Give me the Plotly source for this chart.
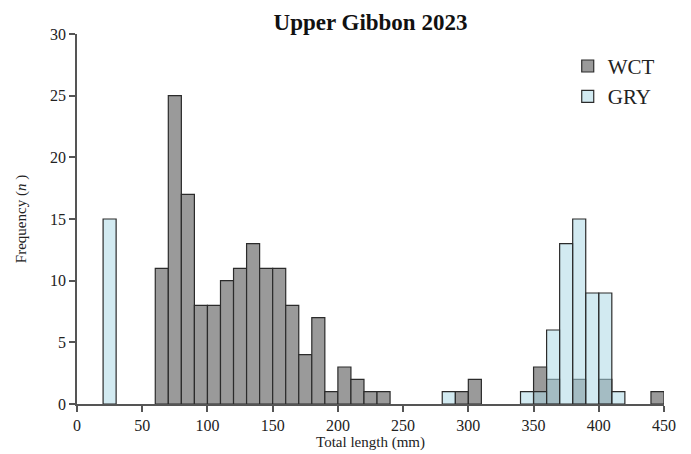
import plotly.graph_objects as go

# Histogram bins (left edges, 10 mm wide) and counts
wct_bins = [60, 70, 80, 90, 100, 110, 120, 130, 140, 150, 160, 170, 180, 190,
            200, 210, 220, 230, 290, 300, 350, 360, 380, 400, 440]
wct_counts = [11, 25, 17, 8, 8, 10, 11, 13, 11, 11, 8, 4, 7, 1,
              3, 2, 1, 1, 1, 2, 3, 2, 2, 2, 1]

gry_bins = [20, 280, 340, 350, 360, 370, 380, 390, 400, 410]
gry_counts = [15, 1, 1, 1, 6, 13, 15, 9, 9, 1]

bin_width = 10
x_ticks = [0, 50, 100, 150, 200, 250, 300, 350, 400, 450]
y_ticks = [0, 5, 10, 15, 20, 25, 30]

FONT = "Liberation Serif"

fig = go.Figure()
fig.add_trace(go.Bar(
    x=wct_bins, y=wct_counts, width=bin_width, offset=0, name="WCT",
    marker=dict(color="#9a9a9a", line=dict(color="#2b2b2b", width=1.2)),
))
fig.add_trace(go.Bar(
    x=gry_bins, y=gry_counts, width=bin_width, offset=0, name="GRY",
    marker=dict(color="rgba(173,216,230,0.55)", line=dict(color="#2b2b2b", width=1.2)),
))

fig.update_layout(
    width=691, height=454,
    margin=dict(l=77, r=27, t=34, b=50),
    barmode="overlay",
    plot_bgcolor="white", paper_bgcolor="white",
    font=dict(family=FONT, size=16, color="#222"),
    title=dict(text="<b>Upper Gibbon 2023</b>", x=0.5, xanchor="center",
               xref="paper", y=0.952, yanchor="middle",
               font=dict(family=FONT, size=23, color="#111")),
    showlegend=True,
    legend=dict(x=0.836, y=0.968, xanchor="left", yanchor="top",
                font=dict(family=FONT, size=21, color="#222"),
                bgcolor="rgba(0,0,0,0)", itemwidth=30, tracegroupgap=0),
    xaxis=dict(range=[0, 450], tickvals=x_ticks, showgrid=False, zeroline=False,
               automargin=False,
               showline=True, linecolor="#555", linewidth=1.5,
               ticks="outside", ticklen=6, tickcolor="#555", tickwidth=1.5,
               title=dict(text="Total length (mm)", font=dict(size=15), standoff=3)),
    yaxis=dict(range=[0, 30], tickvals=y_ticks, showgrid=False, zeroline=False,
               automargin=False,
               showline=True, linecolor="#555", linewidth=1.5,
               ticks="outside", ticklen=6, tickcolor="#555", tickwidth=1.5,
               title=dict(text="Frequency (<i>n</i> )", font=dict(size=15), standoff=20)),
)

fig.write_html("out.html")
